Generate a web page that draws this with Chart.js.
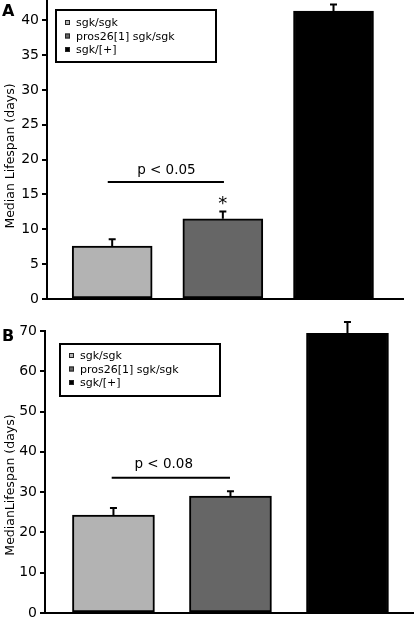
<!DOCTYPE html>
<html>
<head>
<meta charset="utf-8">
<script src="https://cdn.jsdelivr.net/npm/chart.js@4.4.0/dist/chart.umd.min.js"></script>
<style>
  body { margin: 0; background: #fff; }
  canvas { position: absolute; left: 0; }
  #chart-a { top: 0; }
  #chart-b { top: 310px; }
</style>
</head>
<body>
<canvas id="chart-a" width="415" height="310"></canvas>
<canvas id="chart-b" width="415" height="309"></canvas>
<script>
// genotypes (same in both panels)
const categories = ['sgk/sgk', 'pros26[1] sgk/sgk', 'sgk/[+]'];
const barColors = ['#b3b3b3', '#666666', '#000000'];
const positions = [0, 1, 2];

// panel A - median lifespan (days) + upper error
const lifespanA = [7.6, 11.5, 41.3];
const errorA = [1.1, 1.2, 1.1];
const yTicksA = [0, 5, 10, 15, 20, 25, 30, 35, 40];

// panel B
const lifespanB = [24.3, 29.0, 69.4];
const errorB = [2.0, 1.5, 3.1];
const yTicksB = [0, 10, 20, 30, 40, 50, 60, 70];

const FONT = "'DejaVu Sans', Verdana, sans-serif";

// ============================================
// extra drawing: error bars, p-value, legend, titles
// ============================================

function panelPlugin(p) {
  return {
    id: 'panel' + p.letter,
    afterDatasetsDraw(chart) {
      const ctx = chart.ctx;
      const xs = chart.scales.x;
      const ys = chart.scales.y;
      const meta = chart.getDatasetMeta(0);

      ctx.save();
      ctx.strokeStyle = '#000';
      ctx.fillStyle = '#000';
      ctx.lineWidth = 2;

      // error bars (upper only)
      p.values.forEach((v, i) => {
        const cx = meta.data[i].x;
        const top = ys.getPixelForValue(v + p.errors[i]);
        const base = ys.getPixelForValue(v);
        ctx.beginPath();
        ctx.moveTo(cx, base);
        ctx.lineTo(cx, top);
        ctx.moveTo(cx - 3.5, top + 1);
        ctx.lineTo(cx + 3.5, top + 1);
        ctx.stroke();
      });

      // significance line + label
      const s = p.sig;
      const ly = ys.getPixelForValue(s.lineY);
      ctx.beginPath();
      ctx.moveTo(xs.getPixelForValue(s.x0), ly);
      ctx.lineTo(xs.getPixelForValue(s.x1), ly);
      ctx.stroke();
      ctx.font = '13.5px ' + FONT;
      ctx.textAlign = 'center';
      ctx.textBaseline = 'alphabetic';
      ctx.fillText(s.text, xs.getPixelForValue(s.textX), ys.getPixelForValue(s.textY));

      if (p.star) {
        const i = p.star;
        const top = ys.getPixelForValue(p.values[i] + p.errors[i]);
        ctx.font = '18px ' + FONT;
        ctx.fillText('*', meta.data[i].x, top - 1);
      }

      // legend
      const L = p.legend;
      ctx.lineWidth = 2;
      ctx.strokeRect(L.x + 1, L.y + 1, L.w - 2, L.h - 2);
      ctx.font = '11px ' + FONT;
      ctx.textAlign = 'left';
      categories.forEach((c, i) => {
        const by = L.y + L.first + i * L.step;
        ctx.fillStyle = barColors[i];
        ctx.fillRect(L.x + 10, by - 6, 5, 5);
        ctx.lineWidth = 1;
        ctx.strokeStyle = '#222';
        ctx.strokeRect(L.x + 10.5, by - 5.5, 4, 4);
        ctx.fillStyle = '#000';
        ctx.fillText(c, L.x + L.textDx, by);
      });

      // y title
      ctx.save();
      ctx.translate(14, p.titleY);
      ctx.rotate(-Math.PI / 2);
      ctx.textAlign = 'center';
      ctx.font = '12.5px ' + FONT;
      ctx.fillText(p.yTitle, 0, 0);
      ctx.restore();

      // panel letter
      ctx.font = 'bold 16px ' + FONT;
      ctx.textAlign = 'left';
      ctx.fillText(p.letter, 2, p.letterY);

      ctx.restore();
    }
  };
}

function makeChart(id, p) {
  return new Chart(document.getElementById(id), {
    type: 'bar',
    data: {
      datasets: [{
        data: positions.map((x, i) => ({ x, y: p.values[i] })),
        backgroundColor: barColors,
        borderColor: '#000',
        borderWidth: 2,
        borderSkipped: false,
        barThickness: p.barWidth,
        clip: false
      }]
    },
    options: {
      responsive: false,
      animation: false,
      layout: { padding: p.padding },
      plugins: {
        legend: { display: false },
        tooltip: { enabled: false }
      },
      scales: {
        x: {
          type: 'linear',
          min: p.xMin,
          max: p.xMax,
          offset: false,
          ticks: { display: false },
          grid: { display: false },
          border: { color: '#000', width: 2 },
          afterFit: s => { s.height = 0; }
        },
        y: {
          min: 0,
          max: p.yMax,
          ticks: {
            stepSize: p.yTicks[1] - p.yTicks[0],
            color: '#000',
            padding: 3,
            font: { family: FONT, size: 14 }
          },
          afterBuildTicks: s => {
            s.ticks = s.ticks.filter(t => p.yTicks.includes(t.value));
          },
          grid: { drawOnChartArea: false, drawTicks: true, tickLength: 5, color: '#000', lineWidth: 2 },
          border: { color: '#000', width: 2 },
          afterFit: s => {
            s.width = p.axisLeft;
            s.paddingTop = 0;
            s.paddingBottom = 0;
          }
        }
      }
    },
    plugins: [panelPlugin(p)]
  });
}

makeChart('chart-a', {
  letter: 'A', letterY: 16,
  values: lifespanA, errors: errorA, yTicks: yTicksA, yMax: 42.9,
  xMin: -0.589, xMax: 2.628, barWidth: 80, axisLeft: 47,
  padding: { left: 0, top: 0, right: 12, bottom: 11 },
  sig: { x0: -0.04, x1: 1.01, lineY: 16.8, text: 'p < 0.05', textX: 0.49, textY: 18.0 },
  star: 1,
  legend: { x: 55, y: 9, w: 162, h: 54, first: 17, step: 13.5, textDx: 21 },
  yTitle: 'Median Lifespan (days)', titleY: 156
});

makeChart('chart-b', {
  letter: 'B', letterY: 31,
  values: lifespanB, errors: errorB, yTicks: yTicksB, yMax: 70,
  xMin: -0.585, xMax: 2.56, barWidth: 82, axisLeft: 45,
  padding: { left: 0, top: 21, right: 2, bottom: 6 },
  sig: { x0: -0.015, x1: 0.996, lineY: 33.6, text: 'p < 0.08', textX: 0.43, textY: 36.1 },
  star: 0,
  legend: { x: 59, y: 33, w: 162, h: 54, first: 16, step: 13.5, textDx: 21 },
  yTitle: 'MedianLifespan (days)', titleY: 175
});
</script>
</body>
</html>
